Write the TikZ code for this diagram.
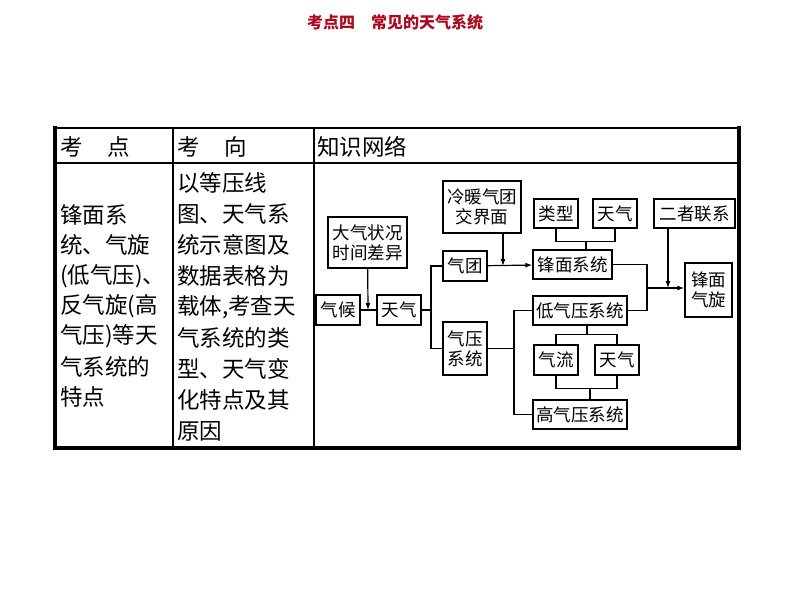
\documentclass[tikz,border=0pt]{standalone}
\usepackage{fontspec}
\newfontfamily\cjk{Noto Sans CJK SC}
\usetikzlibrary{arrows.meta}
\definecolor{titlered}{RGB}{170,10,30}
\begin{document}
\begin{tikzpicture}[x=1pt,y=-1pt,
  bx/.style={draw,line width=1.4pt,inner sep=0pt,align=center,font=\cjk\fontsize{17.5}{20}\selectfont},
  ln/.style={line width=1.4pt},
  ar/.style={line width=1.2pt,-{Latex[length=7pt,width=5pt]}},
  tx/.style={anchor=west,inner sep=0pt,font=\cjk\fontsize{22.5}{24}\selectfont}]
\useasboundingbox (0,0) rectangle (794,596);
\node[font=\cjk\bfseries\fontsize{16}{18}\selectfont,text=titlered] (title) at (395,22) {考点四\quad 常见的天气系统};
% table
\draw[line width=2pt] (55,128) -- (739,128);
\draw[line width=1.2pt] (55,163) -- (739,163);
\draw[line width=4pt] (55,126) -- (55,450);
\draw[line width=4pt] (739,126) -- (739,450);
\draw[line width=4pt] (53,448) -- (741,448);
\draw[line width=1.6pt] (173,128) -- (173,448);
\draw[line width=1.6pt] (314,128) -- (314,448);
\node[tx] (h1) at (60,147) {考\hspace{1.1em}点};
\node[tx] (h2) at (177,147) {考\hspace{1.1em}向};
\node[tx] (h3) at (317,147) {知识网络};
\foreach \t [count=\i] in {锋面系,统、气旋,(低气压)、,反气旋(高,气压)等天,气系统的,特点}
  \node[tx] (a\i) at (60,{215+30.4*(\i-1)}) {\t};
\foreach \t [count=\i] in {以等压线,图、天气系,统示意图及,数据表格为,{载体,考查天},气系统的类,型、天气变,化特点及其,原因}
  \node[tx] (b\i) at (177,{183+31*(\i-1)}) {\t};
% boxes
\node[bx,minimum width=79,minimum height=51] (dq) at (367.5,242.5) {大气状况\\时间差异};
\node[bx,minimum width=44,minimum height=30] (qh) at (338,310) {气候};
\node[bx,minimum width=44,minimum height=30] (tq1) at (399,310) {天气};
\node[bx,minimum width=44,minimum height=30] (qt) at (465,266) {气团};
\node[bx,minimum width=44,minimum height=53] (qy) at (465,348.5) {气压\\系统};
\node[bx,minimum width=78,minimum height=52] (lm) at (482,207) {冷暖气团\\交界面};
\node[bx,minimum width=44,minimum height=29] (lx) at (556,213.5) {类型};
\node[bx,minimum width=44,minimum height=29] (tq2) at (615,213.5) {天气};
\node[bx,minimum width=79,minimum height=29] (fm) at (572.5,264.5) {锋面系统};
\node[bx,minimum width=81,minimum height=29] (ez) at (694.5,213.5) {二者联系};
\node[bx,minimum width=47,minimum height=54] (fq) at (708.5,290) {锋面\\气旋};
\node[bx,minimum width=94,minimum height=29] (dy) at (580,310.5) {低气压系统};
\node[bx,minimum width=44,minimum height=30] (ql) at (556,360) {气流};
\node[bx,minimum width=44,minimum height=30] (tq3) at (617,360) {天气};
\node[bx,minimum width=94,minimum height=29] (gy) at (580,414.5) {高气压系统};
% connectors
\coordinate (j1) at (368,310);
\coordinate (j2) at (431,310);
\coordinate (j3) at (503,266);
\coordinate (j4) at (647,288);
\coordinate (j5) at (668,288);
\coordinate (j6) at (514,348.5);
\draw[ln] (qh) -- (tq1);
\draw[ar] (dq) -- (j1);
\draw[ln] (tq1) -- (j2) |- (qt);
\draw[ln] (j2) |- (qy);
\draw[ar] (qt) -- (fm);
\draw[ar] (lm.south -| j3) -- (j3);
\draw[ln] (lx.south) -- ++(0,12.5) -| (tq2.south);
\draw[ln] (586,241) -- (fm.north -| 586,0);
\draw[ln] (fm.east) -| (j4) |- (dy.east);
\draw[ar] (j4) -- (fq.west |- j4);
\draw[ar] (ez.south -| j5) -- (j5);
\draw[ln] (qy) -- (j6);
\draw[ln] (dy.west) -| (j6) |- (gy.west);
\draw[ln] (dy.south -| 587,0) -- (587,335);
\draw[ln] (ql.north) -- ++(0,-10) -| (tq3.north);
\draw[ln] (ql.south) -- ++(0,13) -| (tq3.south);
\draw[ln] (590,388) -- (gy.north -| 590,0);
\end{tikzpicture}
\end{document}
